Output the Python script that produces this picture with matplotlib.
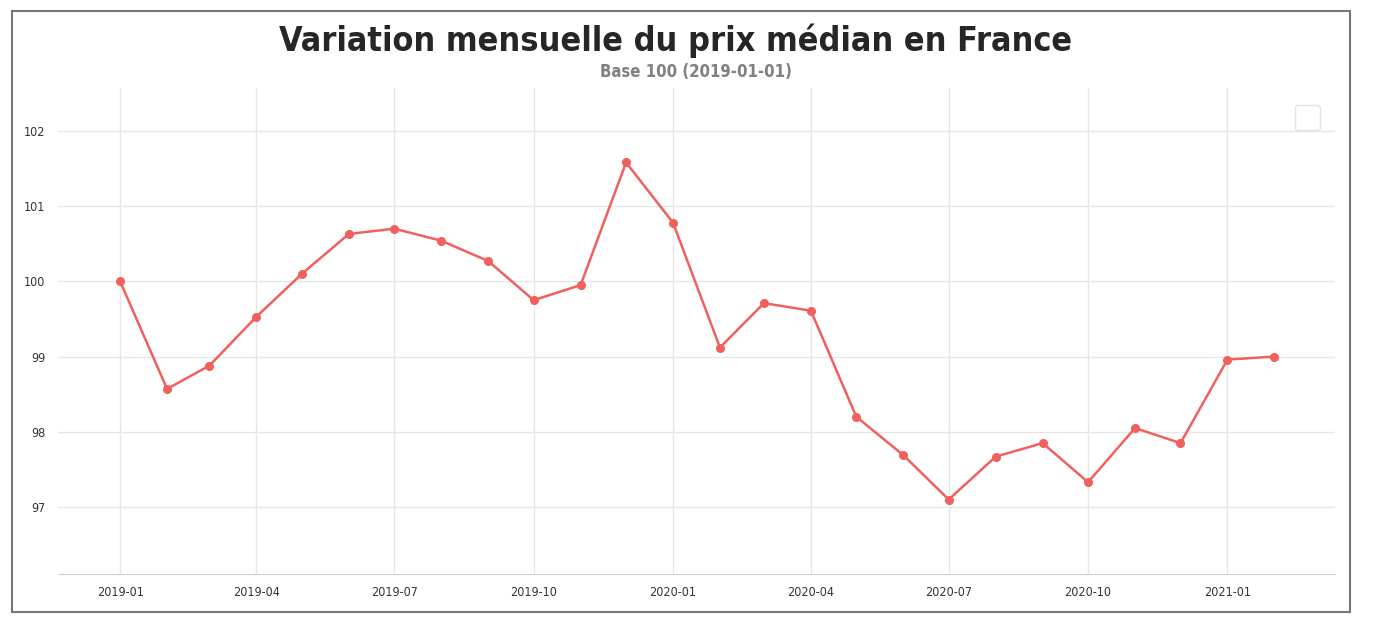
import matplotlib
matplotlib.use('Agg')
import matplotlib.pyplot as plt
import matplotlib.dates as mdates
import seaborn as sns
import pandas as pd
from matplotlib.patches import Rectangle

mois = pd.date_range('2019-01-01', '2021-02-01', freq='MS')
indice = [100.0, 98.57, 98.88, 99.53, 100.10, 100.63, 100.70, 100.54, 100.27,
          99.75, 99.95, 101.58, 100.78, 99.12, 99.71, 99.61, 98.20, 97.69,
          97.10, 97.67, 97.85, 97.33, 98.05, 97.85, 98.96, 99.00]

sns.set_style('whitegrid')
plt.rcParams['font.family'] = ['DejaVu Sans']
plt.rcParams['font.stretch'] = 'condensed'

fig = plt.figure(figsize=(13.74, 6.3), dpi=100)
ax = fig.add_axes([58 / 1374, 1 - 574 / 630, (1335 - 58) / 1374, (574 - 88) / 630])

ax.plot(mois, indice, color='#f0605d', lw=1.8, marker='o', ms=5.5)

ax.set_xlim(pd.Timestamp('2019-01-01') - pd.Timedelta(days=41),
            pd.Timestamp('2021-01-01') + pd.Timedelta(days=71))
ax.set_ylim(96.11, 102.57)
ax.set_yticks([97, 98, 99, 100, 101, 102])
ax.xaxis.set_major_locator(mdates.MonthLocator(bymonth=[1, 4, 7, 10]))
ax.xaxis.set_major_formatter(mdates.DateFormatter('%Y-%m'))
ax.tick_params(labelsize=9, length=0, colors='#333333')
ax.tick_params(axis='x', pad=9)
ax.tick_params(axis='y', pad=9)
ax.grid(color='#e6e6e6', lw=1)
for s in ['left', 'right', 'top']:
    ax.spines[s].set_visible(False)
ax.spines['bottom'].set_color('#cccccc')

leg = ax.legend(handles=[], loc='upper right', bbox_to_anchor=(0.988, 0.965),
                borderaxespad=0, borderpad=0.9)
leg.get_frame().set_edgecolor('#dddddd')

fig.text(0.4915, 0.935, 'Variation mensuelle du prix médian en France',
         ha='center', va='center', fontsize=24.5, fontweight='bold', color='#262626',
         fontstretch='condensed')
fig.text(0.5065, 0.885, 'Base 100 (2019-01-01)', ha='center', va='center',
         fontsize=12, fontweight='bold', color='#808080', fontstretch='condensed')

fig.patches.append(Rectangle((12 / 1374, 1 - 612 / 630), (1350 - 12) / 1374, (612 - 11) / 630,
                             transform=fig.transFigure, fill=False, edgecolor='#777777', lw=1.5))

fig.savefig('out.png', dpi=100)
